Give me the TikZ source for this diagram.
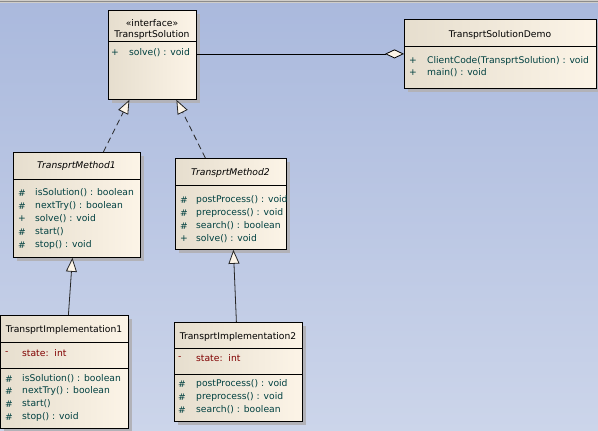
\documentclass[tikz,border=0pt]{standalone}
\usepackage{fontspec}
\setmainfont{DejaVu Sans}
\usetikzlibrary{arrows.meta,shadows}
\definecolor{bgtop}{RGB}{170,185,221}
\definecolor{bgbot}{RGB}{204,213,234}
\definecolor{framegray}{RGB}{208,206,202}
\definecolor{boxleft}{RGB}{230,222,206}
\definecolor{boxright}{RGB}{252,244,231}
\definecolor{shadowgray}{RGB}{178,178,184}
\definecolor{optext}{RGB}{0,64,64}
\definecolor{attrtext}{RGB}{128,0,0}

\begin{document}
\begin{tikzpicture}[x=1pt,y=-1pt,
    cls/.style={draw,line width=0.8pt,anchor=north west,inner sep=0pt,
      left color=boxleft,right color=boxright,
      drop shadow={shadow xshift=4pt,shadow yshift=-4pt,fill=shadowgray,opacity=1}},
    sep/.style={line width=0.8pt},
    ttl/.style={inner sep=0pt,font=\fontsize{9.2}{10}\selectfont},
    op/.style={ttl,anchor=west,text=optext},
    attr/.style={ttl,anchor=west,text=attrtext},
    realize/.style={line width=0.8pt,black!85,dash pattern=on 6pt off 4pt,
      -{Triangle[length=14pt,width=11pt,fill=boxright]}},
    inherit/.style={line width=0.8pt,black!85,-{Triangle[length=14pt,width=11pt,fill=boxright]}},
    aggr/.style={line width=0.8pt,black,-{Diamond[length=19pt,width=9pt,fill=boxright]}}]
  \useasboundingbox (0,0) rectangle (598,431);
  \shade[top color=bgtop,bottom color=bgbot] (0,0) rectangle (598,431);
  \fill[framegray] (0,0) rectangle (598,3);
  \draw[black!45,line width=0.7pt] (0,1.5) -- (598,1.5);

  % interface
  \node[cls,minimum width=88pt,minimum height=89pt] (iface) at (108,10) {};
  \node[ttl] (ifacest) at (152,23) {«interface»};
  \node[ttl] (ifacename) at (152,35) {TransprtSolution};
  \draw[sep] (iface.west |- 0,41) -- (iface.east |- 0,41);
  \node[op] (ifacev1) at (111,53) {+};
  \node[op] (ifaceop1) at (129,53) {solve() : void};

  % client
  \node[cls,minimum width=192pt,minimum height=69pt] (demo) at (404,19) {};
  \node[ttl] (demoname) at (500,35) {TransprtSolutionDemo};
  \draw[sep] (demo.west |- 0,46) -- (demo.east |- 0,46);
  \node[op] (demov1) at (409,61) {+};
  \node[op] (demoop1) at (427,61) {ClientCode(TransprtSolution) : void};
  \node[op] (demov2) at (409,73) {+};
  \node[op] (demoop2) at (427,73) {main() : void};

  % abstract methods
  \node[cls,minimum width=127pt,minimum height=105pt] (m1) at (13,152) {};
  \node[ttl,font=\fontsize{9.2}{10}\selectfont\itshape] (m1name) at (76.5,166) {TransprtMethod1};
  \draw[sep] (m1.west |- 0,179) -- (m1.east |- 0,179);
  \foreach \v/\t [count=\i] in {\#/isSolution() : boolean,\#/nextTry() : boolean,
      +/solve() : void,\#/start(),\#/stop() : void}{
    \node[op] (m1v\i) at (18,{180+13*\i}) {\v};
    \node[op] (m1op\i) at (35,{180+13*\i}) {\t};
  }

  \node[cls,minimum width=111pt,minimum height=91pt] (m2) at (175,158) {};
  \node[ttl,font=\fontsize{9.2}{10}\selectfont\itshape] (m2name) at (230.5,173) {TransprtMethod2};
  \draw[sep] (m2.west |- 0,185) -- (m2.east |- 0,185);
  \foreach \v/\t [count=\i] in {\#/postProcess() : void,\#/preprocess() : void,
      \#/search() : boolean,+/solve() : void}{
    \node[op] (m2v\i) at (180,{187+13*\i}) {\v};
    \node[op] (m2op\i) at (196,{187+13*\i}) {\t};
  }

  % implementations
  \node[cls,minimum width=128pt,minimum height=113pt] (impl1) at (0,315) {};
  \node[ttl] (impl1name) at (64,330) {TransprtImplementation1};
  \draw[sep] (impl1.west |- 0,342) -- (impl1.east |- 0,342);
  \node[attr] (impl1v0) at (5,353) {-};
  \node[attr] (impl1at0) at (22,353) {state:\ \ int};
  \draw[sep] (impl1.west |- 0,368) -- (impl1.east |- 0,368);
  \foreach \t [count=\i] in {isSolution() : boolean,nextTry() : boolean,start(),stop() : void}{
    \node[op] (impl1v\i) at (5,{366+12.7*\i}) {\#};
    \node[op] (impl1op\i) at (22,{366+12.7*\i}) {\t};
  }

  \node[cls,minimum width=128pt,minimum height=99pt] (impl2) at (174,322) {};
  \node[ttl] (impl2name) at (238,337) {TransprtImplementation2};
  \draw[sep] (impl2.west |- 0,348) -- (impl2.east |- 0,348);
  \node[attr] (impl2v0) at (178,358) {-};
  \node[attr] (impl2at0) at (196,358) {state:\ \ int};
  \draw[sep] (impl2.west |- 0,374) -- (impl2.east |- 0,374);
  \foreach \t [count=\i] in {postProcess() : void,preprocess() : void,search() : boolean}{
    \node[op] (impl2v\i) at (178,{371+13*\i}) {\#};
    \node[op] (impl2op\i) at (196,{371+13*\i}) {\t};
  }

  \draw[aggr] (iface.east |- demo.west) -- (demo.west);
  \draw[realize] ([xshift=26.5pt]m1.north) -- ([xshift=-23pt]iface.south);
  \draw[realize] ([xshift=-25.5pt]m2.north) -- ([xshift=24pt]iface.south);
  \draw[inherit] ([xshift=4pt]impl1.north) -- ([xshift=-4.5pt]m1.south);
  \draw[inherit] ([xshift=-2pt]impl2.north) -- ([xshift=2.5pt]m2.south);
\end{tikzpicture}
\end{document}
